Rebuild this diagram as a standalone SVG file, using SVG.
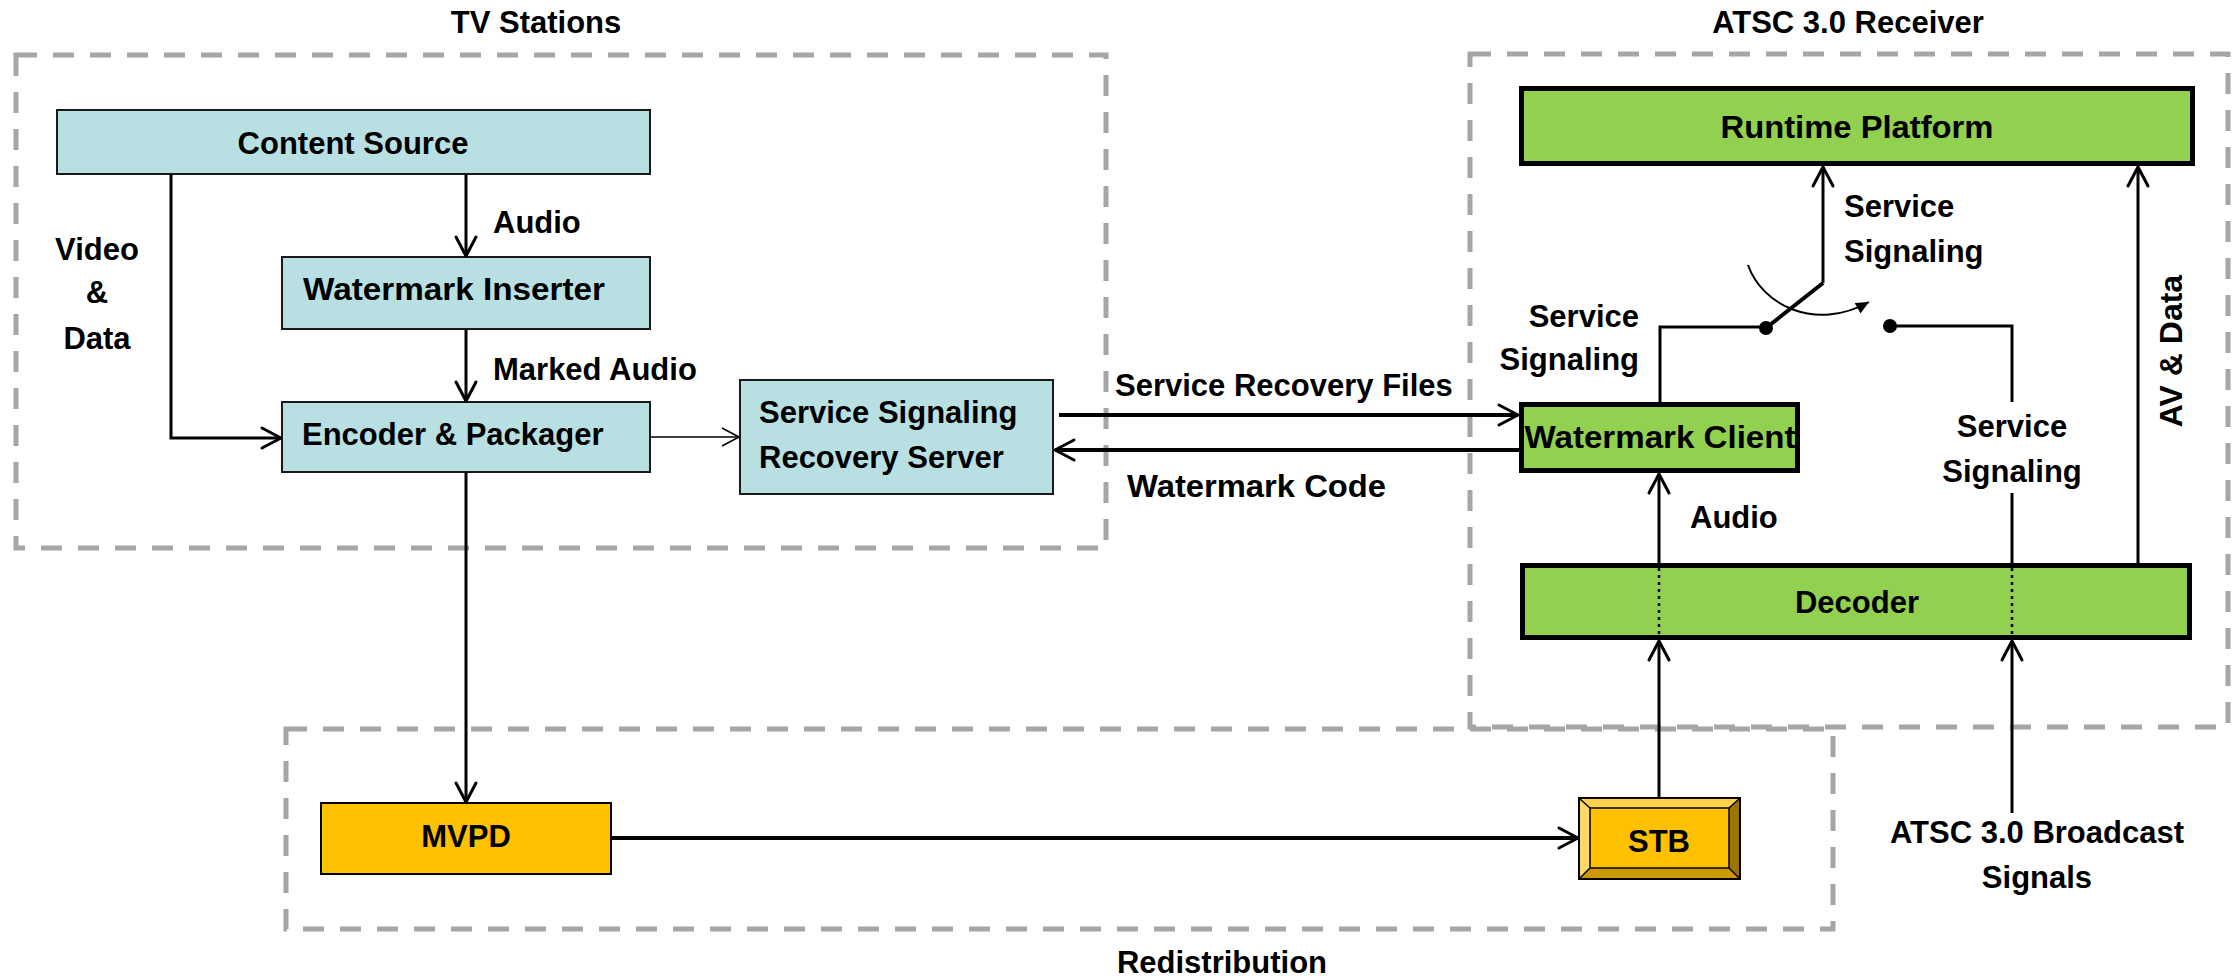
<svg xmlns="http://www.w3.org/2000/svg" width="2239" height="979" viewBox="0 0 2239 979">
<style>
text{font-family:"Liberation Sans",Arial,sans-serif;font-weight:bold;font-size:31px;fill:#000}
.mid{text-anchor:middle}
.end{text-anchor:end}
.grp{fill:none;stroke:#A6A6A6;stroke-width:5;stroke-dasharray:21 16}
.teal{fill:#B8DFE2;stroke:#1a1a1a;stroke-width:2}
.green{fill:#92D050;stroke:#000;stroke-width:5}
.orange{fill:#FFC000;stroke:#000;stroke-width:2}
.ln{fill:none;stroke:#000;stroke-width:3}
.thick{stroke-width:4}
.thin{stroke-width:1.6}
.dot{fill:none;stroke:#000;stroke-width:2.5;stroke-dasharray:3 4}
</style>
<defs>
<marker id="arr" markerUnits="userSpaceOnUse" viewBox="-24 -14 28 28" refX="0" refY="0" markerWidth="28" markerHeight="28" orient="auto" overflow="visible">
<path d="M-19,-10 L0,0 L-19,10" fill="none" stroke="#000" stroke-width="3" stroke-linejoin="round" stroke-linecap="round"/>
</marker>
<marker id="arrt" markerUnits="userSpaceOnUse" viewBox="-24 -14 28 28" refX="0" refY="0" markerWidth="28" markerHeight="28" orient="auto" overflow="visible">
<path d="M-17,-9 L0,0 L-17,9" fill="none" stroke="#000" stroke-width="1.6" stroke-linejoin="round"/>
</marker>
<marker id="arrf" markerUnits="userSpaceOnUse" viewBox="-16 -10 20 20" refX="0" refY="0" markerWidth="20" markerHeight="20" orient="auto" overflow="visible">
<path d="M-13,-6 L0,0 L-13,6 Z" fill="#000"/>
</marker>
</defs>
<rect width="2239" height="979" fill="#fff"/>

<g id="group-tv-stations">
<rect class="grp" x="16" y="55" width="1090" height="493"/>
<text class="mid" x="536" y="33">TV Stations</text>
</g>
<g id="group-atsc-receiver">
<rect class="grp" x="1470" y="54" width="758" height="673"/>
<text class="mid" x="1848" y="33">ATSC 3.0 Receiver</text>
</g>
<g id="group-redistribution">
<rect class="grp" x="286" y="729" width="1547" height="200"/>
<text class="mid" x="1222" y="973">Redistribution</text>
</g>

<g id="node-content-source">
<rect class="teal" x="57" y="110" width="593" height="64"/>
<text class="mid" x="353" y="154">Content Source</text>
</g>
<g id="node-watermark-inserter">
<rect class="teal" x="282" y="257" width="368" height="72"/>
<text x="303" y="300" textLength="302" lengthAdjust="spacingAndGlyphs">Watermark Inserter</text>
</g>
<g id="node-encoder-packager">
<rect class="teal" x="282" y="402" width="368" height="70"/>
<text x="302" y="445">Encoder &amp; Packager</text>
</g>
<g id="node-ssrs">
<rect class="teal" x="740" y="380" width="313" height="114"/>
<text x="759" y="423">Service Signaling</text>
<text x="759" y="468">Recovery Server</text>
</g>
<g id="node-mvpd">
<rect class="orange" x="321" y="803" width="290" height="71"/>
<text class="mid" x="466" y="847">MVPD</text>
</g>
<g id="node-stb">
<rect x="1579" y="798" width="161" height="81" fill="#FFC000" stroke="#000" stroke-width="2"/>
<path d="M1580,799 H1739 L1729,808 H1590 Z" fill="#FFD24D"/>
<path d="M1580,799 L1590,808 V868 L1580,878 Z" fill="#FFD966"/>
<path d="M1739,799 V878 L1729,868 V808 Z" fill="#9C7400"/>
<path d="M1580,878 H1739 L1729,868 H1590 Z" fill="#CC9A00"/>
<rect x="1579" y="798" width="161" height="81" fill="none" stroke="#000" stroke-width="2"/>
<rect x="1590" y="808" width="139" height="60" fill="none" stroke="#000" stroke-width="1.5"/>
<path d="M1580,799 L1590,808 M1739,799 L1729,808 M1580,878 L1590,868 M1739,878 L1729,868" stroke="#000" stroke-width="1.5"/>
<text class="mid" x="1659" y="852">STB</text>
</g>
<g id="node-runtime-platform">
<rect class="green" x="1521.5" y="88.5" width="671" height="75"/>
<text class="mid" x="1857" y="138" textLength="273" lengthAdjust="spacingAndGlyphs">Runtime Platform</text>
</g>
<g id="node-watermark-client">
<rect class="green" x="1521.5" y="404.5" width="276" height="66"/>
<text class="mid" x="1660" y="448" textLength="271" lengthAdjust="spacingAndGlyphs">Watermark Client</text>
</g>
<g id="node-decoder">
<rect class="green" x="1522.5" y="565.5" width="667" height="72"/>
<text class="mid" x="1857" y="613">Decoder</text>
</g>

<g id="connectors">
<path class="ln" d="M171,174 V438 H281" marker-end="url(#arr)"/>
<path class="ln" d="M466,174 V256" marker-end="url(#arr)"/>
<path class="ln" d="M466,329 V401" marker-end="url(#arr)"/>
<path class="ln thin" d="M650,437 H739" marker-end="url(#arrt)"/>
<path class="ln" d="M466,472 V802" marker-end="url(#arr)"/>
<path class="ln thick" d="M1059,415 H1518" marker-end="url(#arr)"/>
<path class="ln thick" d="M1519,450 H1055" marker-end="url(#arr)"/>
<path class="ln thick" d="M611,838 H1578" marker-end="url(#arr)"/>
<path class="ln" d="M1659,798 V641" marker-end="url(#arr)"/>
<path class="ln" d="M2012,813 V641" marker-end="url(#arr)"/>
<path class="ln" d="M1659,563 V474" marker-end="url(#arr)"/>
<path class="ln" d="M2138,563 V167" marker-end="url(#arr)"/>
<path class="ln" d="M1823,283 V167" marker-end="url(#arr)"/>
<path class="ln" d="M1660,402 V327 H1766"/>
<path class="ln thick" d="M1823,283 L1766,328"/>
<path class="ln" d="M1890,326 H2012 V402"/>
<path class="ln" d="M2012,493 V563"/>
<circle cx="1766" cy="328" r="7"/>
<circle cx="1890" cy="326" r="7"/>
<path fill="none" stroke="#000" stroke-width="2" d="M1748,265 C1762,305 1815,332 1869,302" marker-end="url(#arrf)"/>
<path class="dot" d="M1659,568 V636 M2012,568 V636"/>
<text x="493" y="233">Audio</text>
<text x="493" y="380">Marked Audio</text>
<text class="mid" x="97" y="260">Video</text>
<text class="mid" x="97" y="303">&amp;</text>
<text class="mid" x="97" y="349">Data</text>
<text x="1115" y="396">Service Recovery Files</text>
<text x="1127" y="497" textLength="259" lengthAdjust="spacingAndGlyphs">Watermark Code</text>
<text x="1690" y="528">Audio</text>
<text class="end" x="1639" y="327">Service</text>
<text class="end" x="1639" y="370">Signaling</text>
<text x="1844" y="217">Service</text>
<text x="1844" y="262">Signaling</text>
<text class="mid" x="2012" y="437">Service</text>
<text class="mid" x="2012" y="482">Signaling</text>
<text class="mid" transform="translate(2182,351) rotate(-90)" style="font-size:32px">AV &amp; Data</text>
<text class="mid" x="2037" y="843">ATSC 3.0 Broadcast</text>
<text class="mid" x="2037" y="888">Signals</text>
</g>
</svg>
